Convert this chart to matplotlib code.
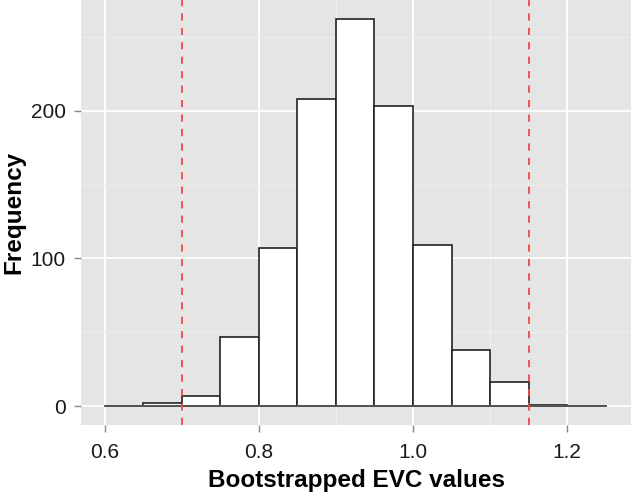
import numpy as np
import matplotlib
matplotlib.use("Agg")
import matplotlib.pyplot as plt

plt.rcParams['font.family'] = ['Liberation Sans', 'DejaVu Sans']

# histogram bins (width 0.05) and counts
bin_edges = [0.60, 0.65, 0.70, 0.75, 0.80, 0.85, 0.90, 0.95, 1.00, 1.05, 1.10, 1.15, 1.20, 1.25]
counts = [0, 2, 7, 47, 107, 208, 262, 203, 109, 38, 16, 1, 0]
ci_lines = [0.70, 1.15]

fig = plt.figure(figsize=(6.31, 4.95), dpi=100)
ax = fig.add_axes([81 / 631, 70 / 495, 550 / 631, 425 / 495])
ax.set_facecolor('#E5E5E5')

lefts = np.array(bin_edges[:-1])
widths = np.diff(bin_edges)
ax.bar(lefts, counts, width=widths, align='edge', color='white',
       edgecolor='#222222', linewidth=1.2, zorder=3)
ax.plot([bin_edges[0], bin_edges[-1]], [0, 0], color='#555555', lw=1.4, zorder=4)

for x in ci_lines:
    ax.axvline(x, color='#F0474A', lw=1.3, ls=(0, (4, 4)), zorder=5)

ax.set_xlim(0.569, 1.283)
ax.set_ylim(-12.8, 275)
ax.set_xticks([0.6, 0.8, 1.0, 1.2])
ax.set_xticklabels(['0.6', '0.8', '1.0', '1.2'])
ax.set_xticks([0.7, 0.9, 1.1], minor=True)
ax.set_yticks([0, 100, 200])
ax.set_yticks([50, 150, 250], minor=True)

ax.grid(which='major', color='white', lw=1.3, zorder=0)
ax.grid(which='minor', color='#F2F2F2', lw=0.6, zorder=0)
ax.set_axisbelow(True)
for s in ax.spines.values():
    s.set_visible(False)

ax.tick_params(which='major', length=5, width=1, color='#888888',
               labelsize=15, labelcolor='#1a1a1a')
ax.tick_params(axis='x', pad=8)
ax.tick_params(axis='y', pad=6)
ax.tick_params(which='minor', length=0)

ax.set_xlabel('Bootstrapped EVC values', fontsize=17.5, fontweight='bold', labelpad=5)
ax.set_ylabel('Frequency', fontsize=17.5, fontweight='bold', labelpad=4)

fig.savefig('out.png', dpi=100)
